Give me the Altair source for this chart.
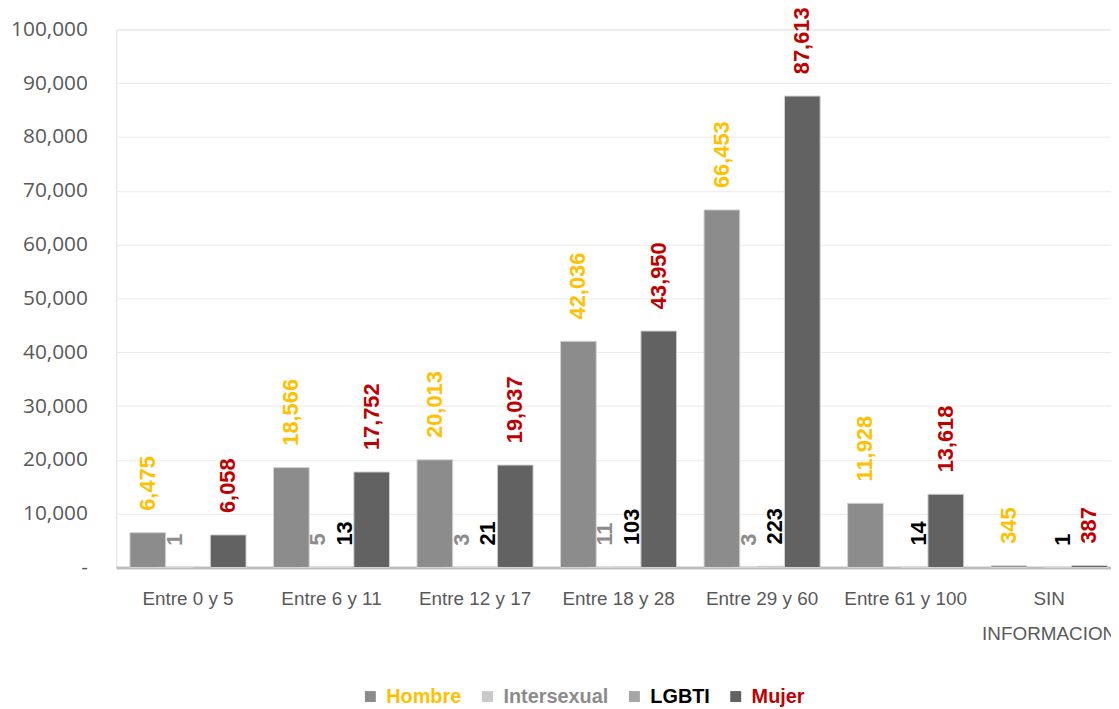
import altair as alt
import pandas as pd

categories = ["Entre 0 y 5", "Entre 6 y 11", "Entre 12 y 17", "Entre 18 y 28",
              "Entre 29 y 60", "Entre 61 y 100", "SIN INFORMACION"]
series = ["Hombre", "Intersexual", "LGBTI", "Mujer"]
hombre = [6475, 18566, 20013, 42036, 66453, 11928, 345]
intersexual = [1, 5, 3, 11, 3, None, None]
lgbti = [None, 13, 21, 103, 223, 14, 1]
mujer = [6058, 17752, 19037, 43950, 87613, 13618, 387]

bar_colors = ["#8c8c8c", "#c9c9c9", "#a6a6a6", "#626262"]
text_colors = ["#FFC000", "#8c8c8c", "#000000", "#C00000"]

rows = []
for name, vals in zip(series, [hombre, intersexual, lgbti, mujer]):
    for cat, v in zip(categories, vals):
        if v is not None:
            rows.append({"cat": cat, "series": name, "value": v})
df = pd.DataFrame(rows)

lib = "Liberation Sans"

x = alt.X("cat:N", sort=categories,
          scale=alt.Scale(domain=categories, range=[0, 1012], paddingInner=0, paddingOuter=0),
          axis=alt.Axis(title=None, labelAngle=0, ticks=False, tickSize=0,
                        domainColor="#bfbfbf", domainWidth=3,
                        labelFont=lib, labelFontSize=19, labelColor="#595959",
                        labelPadding=22, labelLineHeight=36,
                        labelExpr="datum.value == 'SIN INFORMACION' ? ['SIN', 'INFORMACION'] : datum.value"))
xo = alt.XOffset("series:N", sort=series,
                 scale=alt.Scale(domain=series, paddingOuter=0.678, paddingInner=0))
y = alt.Y("value:Q",
          scale=alt.Scale(domain=[0, 100000], nice=False),
          axis=alt.Axis(title=None, values=list(range(0, 100001, 10000)),
                        labelExpr="datum.value == 0 ? '-' : format(datum.value, ',')",
                        grid=True, gridColor="#ebebeb", gridWidth=1,
                        domain=False, ticks=False, tickSize=0,
                        labelFont="Open Sans", labelFontSize=21, labelColor="#595959",
                        labelPadding=29))

legend_color = alt.ExprRef(
    "datum.label == 'Hombre' ? '#FFC000' : datum.label == 'Intersexual' ? '#8c8c8c' : "
    "datum.label == 'LGBTI' ? '#000000' : '#C00000'")

bars = alt.Chart(df).mark_bar(width=36, stroke="#d4d4d4", strokeWidth=1).encode(
    x=x, xOffset=xo, y=y,
    color=alt.Color("series:N", sort=series,
                    scale=alt.Scale(domain=series, range=bar_colors),
                    legend=alt.Legend(title=None, orient="none", direction="horizontal",
                                      legendX=246, legendY=662,
                                      symbolType="square", symbolSize=121, symbolStrokeWidth=0,
                                      labelFont=lib, labelFontSize=20, labelFontWeight="bold",
                                      labelColor=legend_color, labelOffset=6,
                                      columnPadding=16))
)

labels = alt.Chart(df).mark_text(angle=270, align="left", baseline="middle", dx=22,
                                 font=lib, fontSize=22, fontWeight="bold").encode(
    x=x, xOffset=xo, y=y,
    text=alt.Text("value:Q", format=",.0f"),
    color=alt.Color("series:N", sort=series,
                    scale=alt.Scale(domain=series, range=text_colors), legend=None)
)

chart = alt.layer(bars, labels).resolve_scale(color="independent").properties(
    width=1002, height=542,
    autosize=alt.AutoSizeParams(type="none"),
    padding={"left": 109, "top": 19, "right": 0, "bottom": 140},
).configure_view(stroke=None).configure(background="white")

chart.save("out.html", embed_options={"renderer": "svg", "actions": False})
